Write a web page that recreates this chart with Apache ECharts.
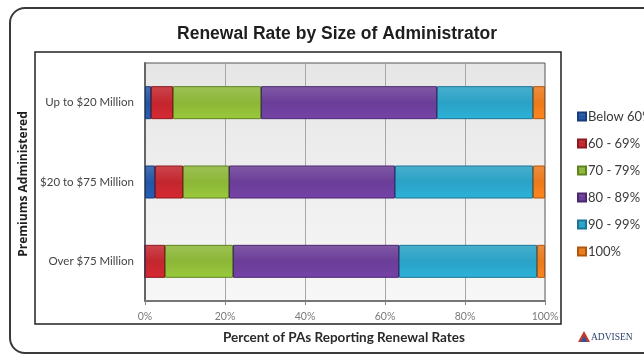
<!DOCTYPE html>
<html>
<head>
<meta charset="utf-8">
<script src="https://cdn.jsdelivr.net/npm/echarts@6/dist/echarts.min.js"></script>
<style>
  html, body { margin: 0; padding: 0; background: #ffffff; }
  #chart { width: 644px; height: 356px; }
</style>
</head>
<body>
<div id="chart"></div>
<script>
// Size bands of premiums administered (top to bottom)
const categories = ['Up to $20 Million', '$20 to $75 Million', 'Over $75 Million'];

// Share of PAs (%) reporting each renewal-rate band
const below60 = [1.5, 2.5, 0];
const r60to69 = [5.5, 7, 5];
const r70to79 = [22, 11.5, 17];
const r80to89 = [44, 41.5, 41.5];
const r90to99 = [24, 34.5, 34.5];
const r100    = [3, 3, 2];

const seriesNames = ['Below 60%', '60 - 69%', '70 - 79%', '80 - 89%', '90 - 99%', '100%'];
const seriesValues = [below60, r60to69, r70to79, r80to89, r90to99, r100];
const xTicks = [0, 20, 40, 60, 80, 100];

const fills   = ['#2456a6', '#c3262e', '#8cb737', '#6b3d98', '#2aa2c6', '#ea7a1c'];
const borders = ['#173c78', '#8a1a1f', '#5f8222', '#4a2870', '#1a7594', '#b0560d'];

const chart = echarts.init(document.getElementById('chart'), null, { renderer: 'canvas' });

const series = seriesNames.map((name, i) => ({
  name: name,
  type: 'bar',
  stack: 'total',
  barWidth: 33,
  data: seriesValues[i],
  itemStyle: {
    color: new echarts.graphic.LinearGradient(0, 0, 0, 1, [
      { offset: 0, color: echarts.color.lift(fills[i], 0.15) },
      { offset: 0.5, color: fills[i] },
      { offset: 1, color: echarts.color.lift(fills[i], -0.1) }
    ]),
    borderColor: borders[i],
    borderWidth: 1
  },
  emphasis: { disabled: true }
}));

chart.setOption({
  animation: false,
  backgroundColor: '#ffffff',
  textStyle: { fontFamily: 'Lato, "Open Sans", sans-serif' },
  title: {
    text: 'Renewal Rate by Size of Administrator',
    left: 332,
    textAlign: 'center',
    top: 20,
    textStyle: {
      fontFamily: '"Liberation Sans", Arial, sans-serif',
      fontSize: 17.5,
      fontWeight: 'bold',
      color: '#1e1e1e'
    }
  },
  legend: {
    orient: 'vertical',
    left: 572,
    top: 105,
    icon: 'rect',
    itemWidth: 8,
    itemHeight: 8,
    itemGap: 14,
    data: seriesNames,
    textStyle: { fontSize: 13, color: '#3a3a3a', padding: [0, 0, 0, -3] }
  },
  grid: {
    left: 145,
    right: 99,
    top: 63,
    bottom: 55,
    show: true,
    backgroundColor: new echarts.graphic.LinearGradient(0, 0, 0, 1, [
      { offset: 0, color: '#e6e6e6' },
      { offset: 1, color: '#f7f7f7' }
    ]),
    borderColor: '#555555',
    borderWidth: 1
  },
  xAxis: {
    type: 'value',
    min: 0,
    max: 100,
    interval: 20,
    axisLine: { show: true, lineStyle: { color: '#777777', width: 2 } },
    axisTick: { show: true, length: 4, lineStyle: { color: '#888888' } },
    splitLine: { show: true, lineStyle: { color: '#a8a8a8', width: 1 } },
    axisLabel: {
      margin: 10,
      fontSize: 10.5,
      color: '#7a7a7a',
      formatter: v => (xTicks.indexOf(v) >= 0 ? v + '%' : '')
    }
  },
  yAxis: {
    type: 'category',
    inverse: true,
    data: categories,
    axisLine: { show: true, lineStyle: { color: '#666666', width: 2 } },
    axisTick: { show: false },
    axisLabel: { margin: 11, fontSize: 11.5, color: '#444444' }
  },
  graphic: [
    {
      type: 'rect',
      z: -10,
      silent: true,
      shape: { x: 10, y: 8, width: 680, height: 345, r: 15 },
      style: { fill: '#ffffff', stroke: '#3a3a3a', lineWidth: 2 }
    },
    {
      type: 'rect',
      z: -9,
      silent: true,
      shape: { x: 35, y: 52, width: 526, height: 272 },
      style: { fill: 'rgba(0,0,0,0)', stroke: '#222222', lineWidth: 1.5 }
    },
    {
      type: 'text',
      silent: true,
      x: 24,
      y: 184,
      rotation: Math.PI / 2,
      style: {
        text: 'Premiums Administered',
        fill: '#1e1e1e',
        font: 'bold 12px "Open Sans", Lato, sans-serif',
        textAlign: 'center',
        textVerticalAlign: 'middle'
      }
    },
    {
      type: 'text',
      silent: true,
      x: 344,
      y: 338,
      style: {
        text: 'Percent of PAs Reporting Renewal Rates',
        fill: '#2a2a2a',
        font: 'bold 13.5px Lato, "Open Sans", sans-serif',
        textAlign: 'center',
        textVerticalAlign: 'middle'
      }
    },
    {
      type: 'polygon',
      silent: true,
      shape: { points: [[578, 342], [584, 331], [590, 342]] },
      style: { fill: '#c0392b' }
    },
    {
      type: 'polygon',
      silent: true,
      shape: { points: [[581, 342], [584, 336], [587, 342]] },
      style: { fill: '#2456a6' }
    },
    {
      type: 'text',
      silent: true,
      x: 591,
      y: 337,
      style: {
        text: 'ADVISEN',
        fill: '#2b3f6b',
        font: '9.5px "Liberation Serif", "DejaVu Serif", serif',
        textAlign: 'left',
        textVerticalAlign: 'middle'
      }
    }
  ],
  series: series
});
</script>
</body>
</html>
